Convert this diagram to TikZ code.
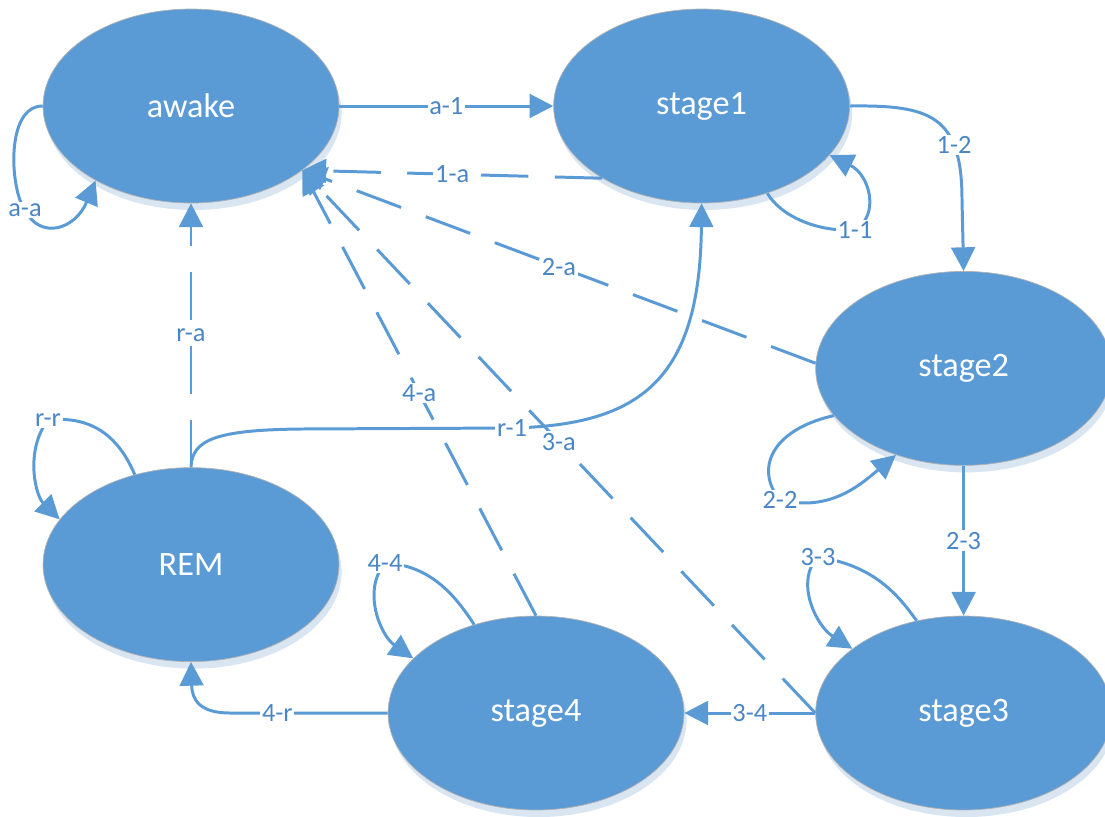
\documentclass[tikz,border=0pt]{standalone}
\usepackage{fontspec}
\setmainfont{Carlito}
\usetikzlibrary{shapes.geometric, arrows.meta, positioning, shadows}
\definecolor{cFill}{RGB}{91,155,213}
\definecolor{cLine}{RGB}{91,155,213}
\definecolor{cText}{RGB}{74,134,198}
\definecolor{cShadow}{RGB}{218,229,242}
\tikzset{
    sleepstate/.style={ellipse, minimum width=5.92cm, minimum height=3.88cm, text centered, draw=black!30, line width=0.4pt, fill=cFill, text=white, font=\fontsize{19.5}{22}\selectfont, drop shadow={fill=cShadow, opacity=1, shadow xshift=1.5pt, shadow yshift=-4pt}},
    flowarrow/.style={-{Triangle[length=13.5pt, width=13.5pt]}, line width=1.7pt, draw=cLine},
    backarrow/.style={flowarrow, dash pattern=on 27pt off 15pt},
    edgelabel/.style={fill=white, text=cText, inner sep=1pt, font=\fontsize{15}{17}\selectfont},
}

\begin{document}
\begin{tikzpicture}[x=0.02cm, y=0.02cm]
                \useasboundingbox (0,0) rectangle (1105,-816);
                \node[sleepstate] (awake) at (191,-106) {awake};
                \node[sleepstate, right=4.28cm of awake] (s1) {stage1};
                \node[sleepstate, below=5.28cm of awake] (rem) {REM};
                \node[sleepstate] (s4) at (536,-713) {stage4};
                \node[sleepstate, right=2.62cm of s4] (s3) {stage3};
                \node[sleepstate, above=3cm of s3] (s2) {stage2};
                % forward transitions
                \draw[flowarrow](awake)-- node[edgelabel]{a-1}(s1);
                \draw[flowarrow](s1.east) .. controls (930,-105) and (962,-115) .. node[edgelabel, pos=0.72]{1-2} (962,-200) -- (s2.north);
                \draw[flowarrow](s2)-- node[edgelabel]{2-3}(s3);
                \draw[flowarrow](s3)-- node[edgelabel]{3-4}(s4);
                \draw[flowarrow](s4.west)-- node[edgelabel, pos=0.7]{4-r}(230,-713) .. controls (200,-713) and (192,-700) .. (rem.south);
                \draw[flowarrow](rem.north) .. controls (192,-440) and (215,-430) .. (300,-429) -- (512,-428) node[edgelabel]{r-1} .. controls (640,-425) and (700,-380) .. (s1.south);
                % back to awake
                \draw[backarrow](s1.216)-- node[edgelabel]{1-a}(awake.-30);
                \draw[backarrow](s2.178)-- node[edgelabel]{2-a}(awake.-30);
                \draw[backarrow](s3.west)-- node[edgelabel]{3-a}(awake.-30);
                \draw[backarrow](s4.north)-- node[edgelabel]{4-a}(awake.-30);
                \draw[backarrow](rem)-- node[edgelabel]{r-a}(awake);
                % self loops
                \draw[flowarrow](awake.180) .. controls (5,-106) and (10,-190) .. (25,-210) node[edgelabel]{a-a} .. controls (40,-240) and (75,-230) .. (awake.218);
                \draw[flowarrow](s1.-53) .. controls (780,-215) and (815,-232) .. (855,-230) node[edgelabel]{1-1} .. controls (880,-215) and (870,-175) .. (s1.-21);
                \draw[flowarrow](s2.200) .. controls (770,-430) and (755,-470) .. (780,-500) node[edgelabel]{2-2} .. controls (830,-512) and (860,-485) .. (s2.232);
                \draw[flowarrow](s3.117) .. controls (895,-590) and (870,-565) .. (818,-557) node[edgelabel]{3-3} .. controls (795,-580) and (815,-625) .. (s3.150);
                \draw[flowarrow](s4.125) .. controls (455,-595) and (430,-565) .. (385,-563) node[edgelabel]{4-4} .. controls (362,-590) and (380,-635) .. (s4.156);
                \draw[flowarrow](rem.122) .. controls (120,-440) and (95,-415) .. (48,-420) node[edgelabel]{r-r} .. controls (25,-450) and (35,-495) .. (rem.161);
            \end{tikzpicture}
\end{document}
